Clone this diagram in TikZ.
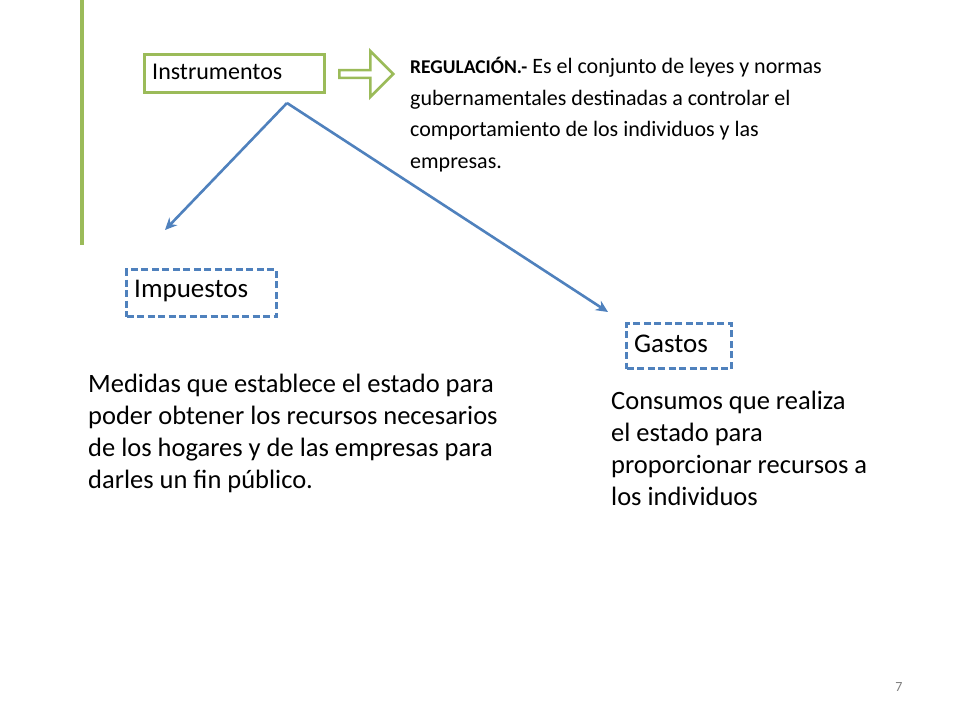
\documentclass[tikz,border=0pt]{standalone}
\usepackage{fontspec}
\setmainfont{Carlito}
\usetikzlibrary{arrows.meta,shapes.arrows}
\definecolor{gr}{HTML}{9BBB59}
\definecolor{bl}{HTML}{4F81BD}
\begin{document}
\begin{tikzpicture}[x=1pt,y=-1pt,
 dbox/.style={draw=bl,line width=3pt,dash pattern=on 7pt off 3.5pt,anchor=north west,inner sep=0pt},
 conn/.style={draw=bl,line width=2.6pt,-{Stealth[length=12pt,width=11pt]}},
 txt/.style={anchor=north west,align=left,inner sep=0pt,font=\fontsize{26.5}{32}\selectfont}]
\useasboundingbox (0,0) rectangle (960,720);
\fill[white] (0,0) rectangle (960,720);
\draw[gr,line width=4.5pt] (82,0) -- (82,245);
\node[draw=gr,line width=2.5pt,anchor=north west,minimum width=180pt,minimum height=38pt,inner sep=0pt] (ins) at (143,53) {};
\node[anchor=west,inner sep=0pt,font=\fontsize{24}{27}\selectfont] at (152,72) {Instrumentos};
\node[single arrow,draw=gr,line width=2.5pt,minimum width=46pt,single arrow head extend=11pt,single arrow tip angle=90,minimum height=54pt,inner sep=1pt,anchor=west] (blk) at (338,74) {};
\node[anchor=north west,align=left,inner sep=0pt,font=\fontsize{22}{31.5}\selectfont] (reg) at (410,57) {{\fontsize{19.5}{31}\selectfont\bfseries REGULACIÓN.-} Es el conjunto de leyes y normas\\gubernamentales destinadas a controlar el\\comportamiento de los individuos y las\\empresas.};
\coordinate (s) at (287,103);
\node[dbox,minimum width=150pt,minimum height=47pt] (imp) at (125,268) {};
\node[anchor=west,inner sep=0pt,font=\fontsize{27}{30}\selectfont] at (134,291) {Impuestos};
\node[dbox,minimum width=105pt,minimum height=45pt] (gas) at (625,322) {};
\node[anchor=west,inner sep=0pt,font=\fontsize{27}{30}\selectfont] at (634,344) {Gastos};
\draw[conn] (s) -- (165,230);
\draw[conn] (s) -- (608,312);
\node[txt] (med) at (88,374) {Medidas que establece el estado para\\poder obtener los recursos necesarios\\de los hogares y de las empresas para\\darles un fin público.};
\node[txt] (con) at (611,391) {Consumos que realiza\\el estado para\\proporcionar recursos a\\los individuos};
\node[anchor=center,text=gray,font=\fontsize{14}{15}\selectfont] (pg) at (899,687) {7};
\end{tikzpicture}
\end{document}
